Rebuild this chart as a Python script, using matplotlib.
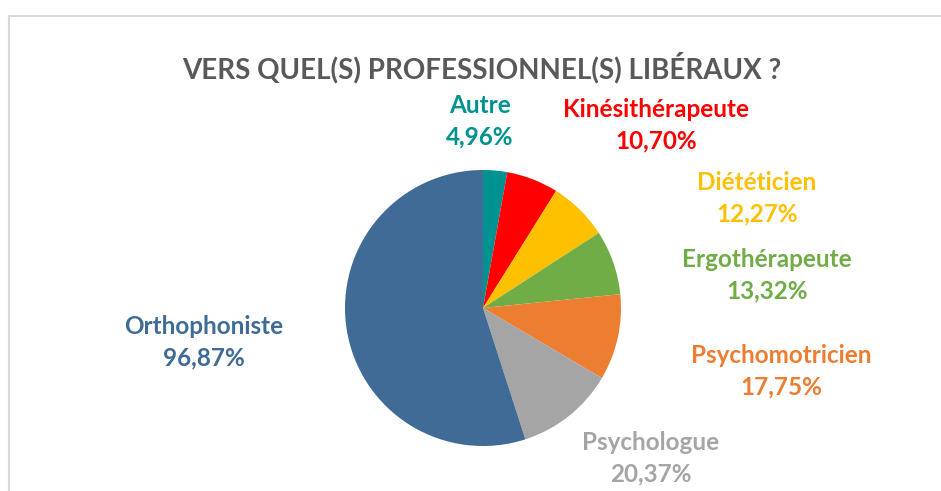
import matplotlib.pyplot as plt
from matplotlib.lines import Line2D

# data (shares; multiple answers so they sum > 100)
labels = ["Autre", "Kinésithérapeute", "Diététicien", "Ergothérapeute",
          "Psychomotricien", "Psychologue", "Orthophoniste"]
values = [4.96, 10.70, 12.27, 13.32, 17.75, 20.37, 96.87]
colors = ["#009290", "#FF0000", "#FFC000", "#70AD47", "#ED7D31", "#A5A5A5", "#3F6B96"]
title = "VERS QUEL(S) PROFESSIONNEL(S) LIBÉRAUX ?"

# label centres in pixel coords (x, y from top)
label_pos = [(480, 121), (656, 125), (757, 198), (767, 275), (781, 371), (651, 458), (204, 342)]

W, H = 941, 491
fig = plt.figure(figsize=(W / 100, H / 100), dpi=100)
ax = fig.add_axes([0, 0, 1, 1])

# chart frame (only top and left edges are inside the crop)
ax.add_line(Line2D([9.5, 9.5, W], [0, H - 15.5, H - 15.5], color="#D9D9D9", lw=1.5))

ax.pie(values, colors=colors, startangle=90, counterclock=False,
       center=(483, H - 308), radius=138, frame=True,
       wedgeprops={"linewidth": 0})
ax.set_xlim(0, W)
ax.set_ylim(0, H)
ax.set_aspect("equal")
ax.set_axis_off()

ax.text(482, H - 68, title, ha="center", va="center", fontsize=20,
        fontweight="bold", color="#595959", family="Lato")

for lab, v, c, (x, y) in zip(labels, values, colors, label_pos):
    txt = f"{lab}\n{v:.2f}%".replace(".", ",")
    ax.text(x, H - y, txt, ha="center", va="center", fontsize=17.5,
            fontweight="bold", color=c, family="Lato", linespacing=1.45)

fig.savefig("out.png", dpi=100)
